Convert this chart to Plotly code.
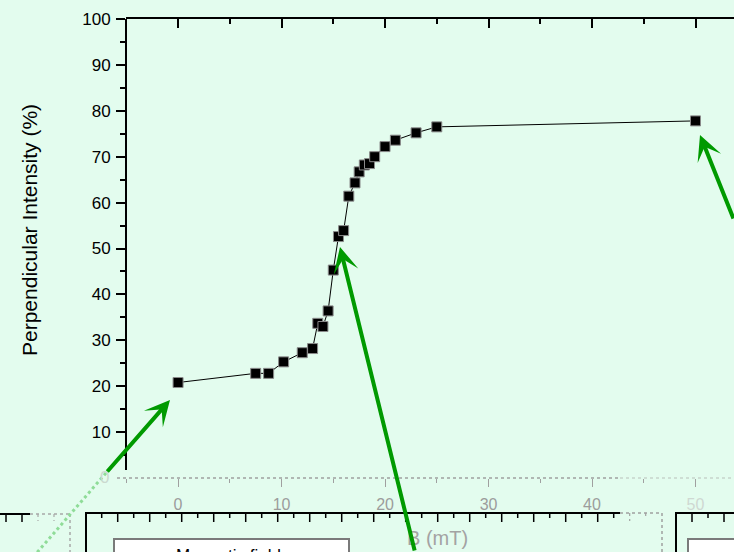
import plotly.graph_objects as go

# Perpendicular intensity versus applied field
field_mT = [0, 7.5, 8.75, 10.2, 12.0, 13.0, 13.5, 14.0, 14.5, 15.0, 15.5, 16.0,
            16.5, 17.1, 17.5, 18.0, 18.5, 19.0, 20.0, 21.0, 23.0, 25.0, 50.0]
intensity_pct = [20.8, 22.8, 22.8, 25.3, 27.3, 28.2, 33.7, 33.0, 36.4, 45.3, 52.6, 53.9,
                 61.4, 64.3, 66.7, 68.2, 68.5, 70.0, 72.2, 73.6, 75.2, 76.5, 77.8]

y_ticks = [10, 20, 30, 40, 50, 60, 70, 80, 90, 100]
x_ticks = [0, 10, 20, 30, 40, 50]
x_tick_text = ["0", "10", "20", "30", "40", "<span style='color:#cfd8d2'>50</span>"]

W, H = 734, 552
L, R, T, B = 126, 0, 19, 74
BG = "#E3FCEE"
GREEN = "#009a00"
FONT = "Arial, Liberation Sans, Helvetica"


def px(x):
    return (x - L) / (W - L - R)


def py(y):
    return (H - B - y) / (H - T - B)


fig = go.Figure()
fig.add_trace(go.Scatter(
    x=field_mT, y=intensity_pct, mode="lines+markers",
    line=dict(color="black", width=1),
    marker=dict(symbol="square", size=10, color="black",
                line=dict(color="#8a8a8a", width=1)),
    showlegend=False, hoverinfo="x+y",
))
# companion trace for the top (mirrored) axis
fig.add_trace(go.Scatter(x=[None], y=[None], xaxis="x2", showlegend=False))

shapes = []
# left axis line
shapes.append(dict(type="line", xref="paper", yref="paper", x0=0, x1=0,
                   y0=py(470), y1=1, line=dict(color="black", width=2)))
# bottom axis: dotted grey
shapes.append(dict(type="line", xref="paper", yref="paper", x0=px(117), x1=px(620),
                   y0=0, y1=0, line=dict(color="#a0a0a0", width=1.5, dash="dot")))
shapes.append(dict(type="line", xref="paper", yref="paper", x0=px(620), x1=1,
                   y0=0, y1=0, line=dict(color="#c8d4cc", width=1.5, dash="dot")))


def hline(x0, x1, y, color, width, dash="solid"):
    shapes.append(dict(type="line", xref="paper", yref="paper", x0=px(x0), x1=px(x1),
                       y0=py(y), y1=py(y), line=dict(color=color, width=width, dash=dash)))


def vline(x, y0, y1, color, width, dash="solid"):
    shapes.append(dict(type="line", xref="paper", yref="paper", x0=px(x), x1=px(x),
                       y0=py(y0), y1=py(y1), line=dict(color=color, width=width, dash=dash)))


# left panel
hline(-2, 30, 514, "black", 2)
hline(30, 70, 514, "#a8a8a8", 1.5, "dot")
vline(70, 514, 560, "#a8a8a8", 1.5, "dot")
for xt in (6, 22):
    vline(xt, 514, 522, "black", 1.5)
for xt in (38, 54):
    vline(xt, 514, 521, "#a8a8a8", 1.2, "dot")

# middle panel
vline(86, 512, 560, "black", 2)
hline(86, 620, 513, "black", 2)
hline(620, 662, 513, "#a0a0a0", 1.5, "dot")
vline(662, 513, 560, "#a0a0a0", 1.5, "dot")
for k in range(0, 35):
    xt = 101.7 + 16 * k
    long = (k % 2 == 1)
    if xt < 620:
        vline(xt, 513, 522 if long else 518, "black", 1.5)
    else:
        vline(xt, 513, 521 if long else 518, "#a0a0a0", 1.2, "dot")
shapes.append(dict(type="rect", xref="paper", yref="paper", x0=px(114), x1=px(349),
                   y0=py(539), y1=py(575), fillcolor="white",
                   line=dict(color="#7a7a7a", width=2)))

# right panel
vline(676, 512, 560, "black", 2)
hline(676, 740, 513, "black", 2)
for i, xt in enumerate((692, 708, 724)):
    vline(xt, 513, 522 if i % 2 == 0 else 518, "black", 1.5)
shapes.append(dict(type="rect", xref="paper", yref="paper", x0=px(688), x1=px(760),
                   y0=py(539), y1=py(575), fillcolor="white",
                   line=dict(color="#7a7a7a", width=2)))

# faded tail of the lower-left arrow
shapes.append(dict(type="line", xref="paper", yref="paper", x0=px(106), x1=px(28),
                   y0=py(473), y1=py(563), line=dict(color="#8fdc98", width=3, dash="dot")))

annotations = [
    dict(text="Perpendicular Intensity (%)", xref="paper", yref="paper",
         x=px(30), y=py(230), textangle=-90, xanchor="center", yanchor="middle",
         showarrow=False, font=dict(size=21, color="black", family=FONT)),
    dict(text="0", xref="paper", yref="paper", x=px(111), y=py(477), xanchor="right",
         yanchor="middle", showarrow=False, font=dict(size=17, color="#cbd9cf", family=FONT)),
    dict(text="B (mT)", xref="paper", yref="paper", x=px(437), y=py(538),
         xanchor="center", yanchor="middle", showarrow=False,
         font=dict(size=20, color="#a3a3a3", family=FONT)),
    dict(text="Magnetic field", xref="paper", yref="paper", x=px(228), y=py(544),
         xanchor="center", yanchor="top", showarrow=False,
         font=dict(size=17, color="black", family=FONT)),
]

arrows = [
    # (head x, head y, tail dx, tail dy) in pixels
    (170, 400, -64, 73),
    (340, 247, 75, 323),
    (700, 135, 52, 85),
]
for hx, hy, dx, dy in arrows:
    annotations.append(dict(
        text="", xref="paper", yref="paper", x=px(hx), y=py(hy),
        axref="pixel", ayref="pixel", ax=dx, ay=dy,
        showarrow=True, arrowhead=3, arrowsize=1.05, arrowwidth=4,
        arrowcolor=GREEN, standoff=0,
    ))

axis_font = dict(family=FONT, size=17, color="black")

fig.update_layout(
    width=W, height=H,
    margin=dict(l=L, r=R, t=T, b=B, pad=0),
    paper_bgcolor=BG, plot_bgcolor=BG,
    font=axis_font,
    showlegend=False,
    shapes=shapes,
    annotations=annotations,
    xaxis=dict(
        range=[-5.03, 53.72], showgrid=False, zeroline=False, showline=False,
        tickmode="array", tickvals=x_ticks, ticktext=x_tick_text,
        ticks="outside", ticklen=8, tickwidth=1, tickcolor="#a0a0a0",
        ticklabelstandoff=4,
        tickfont=dict(family=FONT, size=16, color="#9c9c9c"),
        minor=dict(tickvals=[-5, 5, 15, 25, 35, 45], ticks="outside", ticklen=4,
                   tickwidth=1, tickcolor="#a0a0a0"),
    ),
    xaxis2=dict(
        overlaying="x", side="top", matches="x", range=[-5.03, 53.72],
        showgrid=False, zeroline=False, showline=True, linecolor="black", linewidth=2,
        tickmode="array", tickvals=x_ticks, showticklabels=False,
        ticks="inside", ticklen=9, tickwidth=1.5, tickcolor="black",
        minor=dict(tickvals=[5, 15, 25, 35, 45], ticks="inside", ticklen=5,
                   tickwidth=1.5, tickcolor="black"),
    ),
    yaxis=dict(
        range=[0, 100], showgrid=False, zeroline=False, showline=False,
        tickmode="array", tickvals=y_ticks,
        ticks="outside", ticklen=9, tickwidth=1.5, tickcolor="black",
        ticklabelstandoff=2,
        tickfont=axis_font,
        minor=dict(tickvals=[5, 15, 25, 35, 45, 55, 65, 75, 85, 95], ticks="outside",
                   ticklen=5, tickwidth=1.5, tickcolor="black"),
    ),
)

fig.write_html("out.html")
